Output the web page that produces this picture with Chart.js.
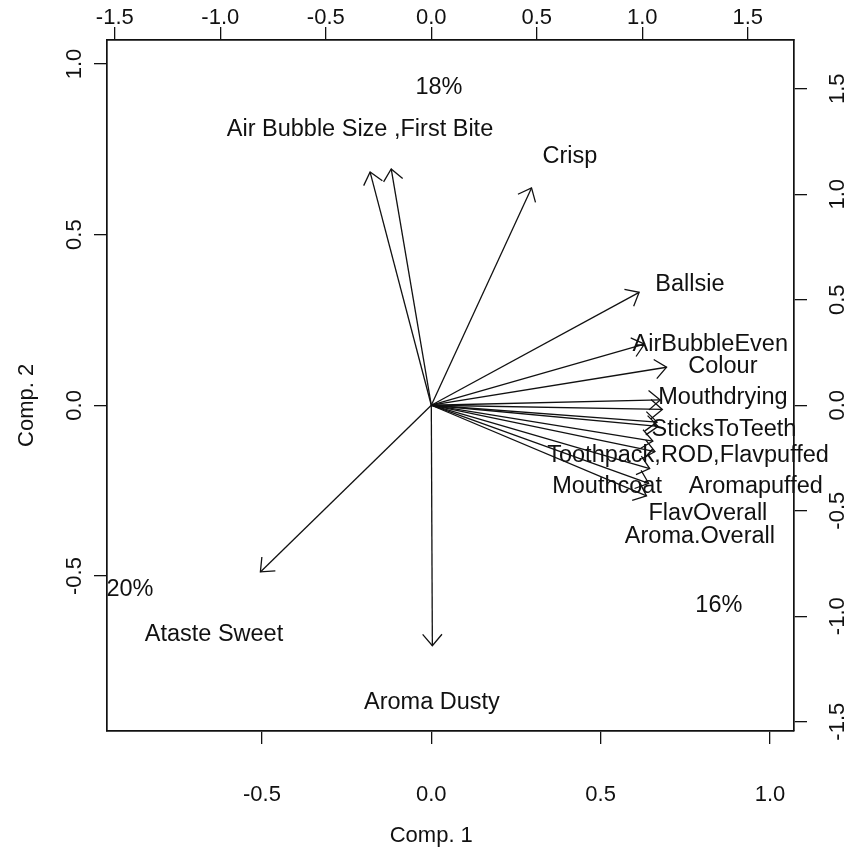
<!DOCTYPE html>
<html>
<head>
<meta charset="utf-8">
<script src="https://cdn.jsdelivr.net/npm/chart.js@4"></script>
<style>
  html, body { margin: 0; padding: 0; background: #fff; }
  canvas { display: block; }
</style>
</head>
<body>
<canvas id="grafico" width="849" height="856"></canvas>
<script>
// loadings (top / right axes)
const arrowNames = ['Air Bubble Size', 'First Bite', 'Crisp', 'Ballsie', 'AirBubbleEven', 'Colour',
  'Mouthdrying', 'SticksToTeeth', 'Toothpack', 'ROD', 'Flavpuffed', 'Aromapuffed', 'Mouthcoat',
  'FlavOverall', 'Aroma.Overall', 'Ataste Sweet', 'Aroma Dusty'];
const loadX = [-0.29, -0.19, 0.475, 0.985, 1.01, 1.115, 1.085, 1.095, 1.07, 1.075, 1.05, 1.06, 1.035, 1.03, 1.02, -0.81, 0.005];
const loadY = [1.105, 1.12, 1.03, 0.535, 0.29, 0.18, 0.025, -0.02, -0.08, -0.10, -0.17, -0.22, -0.30, -0.37, -0.43, -0.79, -1.14];

// text placed on the plot, same units as the loadings
const labelText = ['18%', 'Air Bubble Size ,First Bite', 'Crisp', 'Ballsie', 'AirBubbleEven', 'Colour',
  'Mouthdrying', 'SticksToTeeth', 'Toothpack,ROD,Flavpuffed', 'Mouthcoat', 'Aromapuffed',
  'FlavOverall', 'Aroma.Overall', '20%', 'Ataste Sweet', 'Aroma Dusty', '16%'];
const labelX = [0.036, -0.338, 0.657, 1.226, 1.322, 1.382, 1.382, 1.387, 1.217, 0.833, 1.538, 1.311, 1.273, -1.428, -1.030, 0.003, 1.363];
const labelY = [1.504, 1.305, 1.181, 0.570, 0.286, 0.182, 0.035, -0.117, -0.236, -0.387, -0.387, -0.511, -0.624, -0.875, -1.088, -1.410, -0.951];

// axis ticks
const scoreTicks = [-0.5, 0.0, 0.5, 1.0];
const loadTicks = [-1.5, -1.0, -0.5, 0.0, 0.5, 1.0, 1.5];
const xTitle = 'Comp. 1';
const yTitle = 'Comp. 2';

const FONT = '22px "Liberation Sans", Arial, sans-serif';
const LABEL_FONT = '23.5px "Liberation Sans", Arial, sans-serif';
const INK = '#111';

function fixTicks(list) {
  return function (scale) {
    scale.ticks = list.map(v => ({ value: v }));
  };
}

function axisOpts(pos, min, max, list, size) {
  return {
    type: 'linear',
    position: pos,
    min: min,
    max: max,
    afterBuildTicks: fixTicks(list),
    ticks: { display: false },
    grid: { drawOnChartArea: false, drawTicks: true, tickLength: 13, color: INK, lineWidth: 1.3 },
    border: { display: true, color: INK, width: 1.7 },
    afterFit: function (scale) {
      if (pos === 'top' || pos === 'bottom') scale.height = size;
      else scale.width = size;
    }
  };
}

// tick labels, axis titles, arrow heads and the variable names
const biplotText = {
  id: 'biplotText',
  afterDraw(chart) {
    const ctx = chart.ctx;
    const s = chart.scales;
    const area = chart.chartArea;
    ctx.save();
    ctx.fillStyle = INK;
    ctx.strokeStyle = INK;
    ctx.font = FONT;
    ctx.textAlign = 'center';
    ctx.textBaseline = 'middle';

    scoreTicks.forEach(v => ctx.fillText(v.toFixed(1), s.x.getPixelForValue(v), area.bottom + 64));
    loadTicks.forEach(v => ctx.fillText(v.toFixed(1), s.x2.getPixelForValue(v), area.top - 22));
    ctx.fillText(xTitle, s.x.getPixelForValue(0), area.bottom + 105);

    const vert = (txt, x, y) => {
      ctx.save();
      ctx.translate(x, y);
      ctx.rotate(-Math.PI / 2);
      ctx.fillText(txt, 0, 0);
      ctx.restore();
    };
    scoreTicks.forEach(v => vert(v.toFixed(1), area.left - 32, s.y.getPixelForValue(v)));
    loadTicks.forEach(v => vert(v.toFixed(1), area.right + 44, s.y2.getPixelForValue(v)));
    vert(yTitle, area.left - 80, s.y.getPixelForValue(0));

    // arrow heads
    ctx.lineWidth = 1.3;
    const ox = s.x2.getPixelForValue(0), oy = s.y2.getPixelForValue(0);
    loadX.forEach((lx, i) => {
      const tx = s.x2.getPixelForValue(lx), ty = s.y2.getPixelForValue(loadY[i]);
      const ang = Math.atan2(ty - oy, tx - ox);
      const len = 15, spread = 0.7;
      ctx.beginPath();
      ctx.moveTo(tx - len * Math.cos(ang - spread), ty - len * Math.sin(ang - spread));
      ctx.lineTo(tx, ty);
      ctx.lineTo(tx - len * Math.cos(ang + spread), ty - len * Math.sin(ang + spread));
      ctx.stroke();
    });

    ctx.font = LABEL_FONT;
    labelText.forEach((t, i) => {
      ctx.fillText(t, s.x2.getPixelForValue(labelX[i]), s.y2.getPixelForValue(labelY[i]));
    });
    ctx.restore();
  }
};

const datasets = arrowNames.map((name, i) => ({
  label: name,
  data: [{ x: 0, y: 0 }, { x: loadX[i], y: loadY[i] }],
  xAxisID: 'x2',
  yAxisID: 'y2',
  showLine: true,
  borderColor: INK,
  borderWidth: 1.3,
  pointRadius: 0
}));

new Chart(document.getElementById('grafico').getContext('2d'), {
  type: 'scatter',
  data: { datasets: datasets },
  options: {
    responsive: false,
    animation: false,
    devicePixelRatio: 1,
    events: [],
    layout: { padding: 0 },
    plugins: { legend: { display: false }, tooltip: { enabled: false } },
    scales: {
      x: axisOpts('bottom', -0.9575, 1.071, scoreTicks, 125),
      y: axisOpts('left', -0.954, 1.0703, scoreTicks, 107),
      x2: axisOpts('top', -1.537, 1.719, loadTicks, 40),
      y2: axisOpts('right', -1.544, 1.731, loadTicks, 55)
    }
  },
  plugins: [biplotText]
});
</script>
</body>
</html>
